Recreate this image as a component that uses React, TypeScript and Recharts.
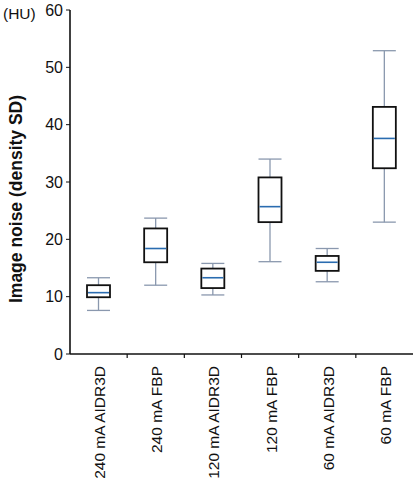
import React from "react";
import { ComposedChart, Bar, XAxis, YAxis } from "recharts";

// Box plot summary per protocol
const groups = [
  "240 mA AIDR3D",
  "240 mA FBP",
  "120 mA AIDR3D",
  "120 mA FBP",
  "60 mA AIDR3D",
  "60 mA FBP",
];
const whiskerLow = [7.6, 12.0, 10.3, 16.1, 12.6, 23.0];
const q1 = [9.9, 16.0, 11.5, 23.0, 14.5, 32.4];
const median = [10.7, 18.4, 13.3, 25.7, 16.0, 37.6];
const q3 = [12.0, 21.9, 14.9, 30.8, 17.1, 43.1];
const whiskerHigh = [13.3, 23.7, 15.8, 34.0, 18.4, 52.9];
const yTicks = [0, 10, 20, 30, 40, 50, 60];

const data = groups.map((name, i) => ({
  name,
  box: [q1[i], q3[i]],
  lo: whiskerLow[i],
  med: median[i],
  hi: whiskerHigh[i],
  q1: q1[i],
  q3: q3[i],
}));

const FONT = "Arial";
const WHISKER = "#8a98ae";
const MEDIAN = "#2a6cb0";

const BoxShape = (props: any) => {
  const { x, y, width, height, payload } = props;
  const boxW = 23;
  const cx = x + width / 2;
  const left = cx - boxW / 2;
  // pixels per unit, taken from the bar the scale already placed
  const k = height / (payload.q3 - payload.q1);
  const yBottom = y + height;
  const yHi = y - (payload.hi - payload.q3) * k;
  const yLo = yBottom + (payload.q1 - payload.lo) * k;
  const yMed = yBottom - (payload.med - payload.q1) * k;
  return (
    <g>
      <line x1={cx} x2={cx} y1={yHi} y2={y} stroke={WHISKER} strokeWidth={1.3} />
      <line x1={cx} x2={cx} y1={yBottom} y2={yLo} stroke={WHISKER} strokeWidth={1.3} />
      <line x1={left} x2={left + boxW} y1={yHi} y2={yHi} stroke={WHISKER} strokeWidth={1.3} />
      <line x1={left} x2={left + boxW} y1={yLo} y2={yLo} stroke={WHISKER} strokeWidth={1.3} />
      <rect x={left} y={y} width={boxW} height={height} fill="#fff" stroke="#111" strokeWidth={1.8} />
      <line x1={left + 1} x2={left + boxW - 1} y1={yMed} y2={yMed} stroke={MEDIAN} strokeWidth={1.6} />
    </g>
  );
};

// rotated group label plus a small tick on the boundary to the next group
const GroupTick = (props: any) => {
  const { x, y, payload, index } = props;
  const half = payload.offset || 57.2 / 2;
  return (
    <g>
      {index < groups.length - 1 && (
        <line x1={x + half} x2={x + half} y1={354} y2={358} stroke="#111" strokeWidth={1.2} />
      )}
      <text
        transform={`translate(${x + 1}, ${y + 4}) rotate(-90)`}
        textAnchor="end"
        dominantBaseline="central"
        fontSize={15.5}
        fontFamily={FONT}
        fill="#111"
      >
        {payload.value}
      </text>
    </g>
  );
};

export default function App() {
  return (
    <div style={{ position: "absolute", left: 0, top: 0, width: 420, height: 488, background: "#fff" }}>
      <ComposedChart
        width={420}
        height={488}
        data={data}
        margin={{ top: 10, right: 7, bottom: 0, left: 0 }}
        barCategoryGap={0}
      >
        <XAxis
          dataKey="name"
          height={134}
          interval={0}
          tickLine={false}
          axisLine={{ stroke: "#111", strokeWidth: 1.6 }}
          tick={<GroupTick />}
        />
        <XAxis xAxisId="top" orientation="top" dataKey="name" height={0} tick={false} tickLine={false} axisLine={{ stroke: "#111", strokeWidth: 1.6 }} />
        <YAxis
          width={70}
          domain={[0, 60]}
          ticks={yTicks}
          interval={0}
          tickSize={4}
          tickMargin={3}
          tickLine={{ stroke: "#111" }}
          axisLine={{ stroke: "#111", strokeWidth: 1.6 }}
          tick={{ fontSize: 16, fontFamily: FONT, fill: "#111" }}
        />
        <YAxis yAxisId="right" orientation="right" domain={[0, 60]} width={0} tick={false} tickLine={false} axisLine={{ stroke: "#111", strokeWidth: 1.6 }} />
        <Bar dataKey="box" shape={<BoxShape />} isAnimationActive={false} />
        <text x={3} y={19} fontSize={15.5} fontFamily={FONT} fill="#111">
          (HU)
        </text>
        <text
          transform="translate(16, 199) rotate(-90)"
          textAnchor="middle"
          dominantBaseline="central"
          fontSize={17.5}
          fontWeight="bold"
          fontFamily={FONT}
          fill="#111"
        >
          Image noise (density SD)
        </text>
      </ComposedChart>
    </div>
  );
}
